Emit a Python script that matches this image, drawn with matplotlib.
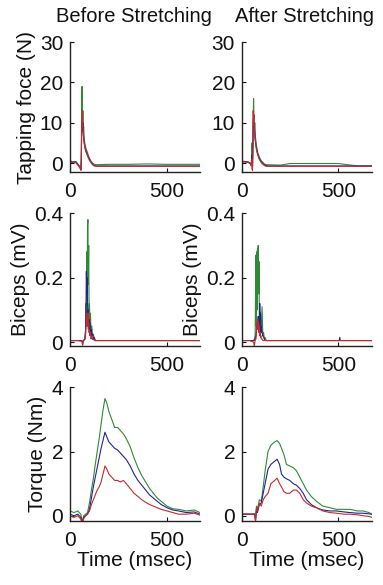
import matplotlib
matplotlib.use("Agg")
import matplotlib.pyplot as plt

plt.rcParams["font.family"] = ["Liberation Sans", "DejaVu Sans"]

# ---- tapping force (N) ----
t_tap_before = [0, 15, 30, 45, 52, 56, 58, 60, 62, 64, 66, 68, 70, 73, 76, 80, 85, 90, 95, 100,
                108, 116, 125, 135, 200, 300, 400, 500, 600, 670]
tap_before_green = [0.6, 0.3, 0.4, -0.5, -1.0, -1.5, 3, 15, 19, 9, 13, 8, 9, 6, 5, 4, 3.2, 2.6, 1.8, 1.2,
                    0.5, 0.0, -0.3, -0.4, -0.3, -0.3, -0.2, -0.3, -0.3, -0.3]
tap_before_blue = [0.4, 0.2, 0.3, -0.7, -1.2, -1.6, 1, 9, 10, 8, 10, 7, 6.5, 5, 4, 3.3, 2.6, 2.0, 1.4, 0.9,
                   0.2, -0.3, -0.6, -0.7, -0.7, -0.7, -0.7, -0.7, -0.7, -0.7]
tap_before_red = [0.3, 0.2, 0.1, -0.8, -1.3, -1.8, 1, 10, 13, 12, 9, 8, 6, 5, 4, 3, 2.4, 1.8, 1.2, 0.7,
                  0.1, -0.4, -0.7, -0.8, -0.8, -0.8, -0.8, -0.8, -0.8, -0.8]

t_tap_after = [0, 15, 30, 42, 48, 52, 54, 56, 58, 60, 62, 64, 66, 68, 71, 74, 78, 82, 86, 90,
               95, 100, 108, 116, 125, 135, 200, 250, 300, 400, 450, 500, 550, 600, 675]
tap_after_green = [0.5, 0.4, 0.3, 0.0, -0.5, 5, -1.5, 4, 12, 16, 11, 8, 10, 7, 6, 4.5, 3.5, 2.5, 2, 1.5,
                   1.0, 0.6, 0.2, -0.2, -0.4, -0.4, -0.5, -0.1, -0.1, -0.1, -0.1, -0.1, -0.4, -0.7, -0.7]
tap_after_blue = [0.4, 0.3, 0.3, 0.0, -0.6, 2, -1.6, 3, 10, 12, 9, 10, 8, 6, 5, 4, 3, 2.2, 1.6, 1.1,
                  0.7, 0.3, -0.1, -0.4, -0.6, -0.7, -0.7, -0.7, -0.7, -0.7, -0.7, -0.7, -0.7, -0.7, -0.7]
tap_after_red = [0.3, 0.3, 0.2, -0.1, -0.7, 1, -1.8, 2, 13, 11, 12, 9, 7, 6, 4.5, 3.5, 2.6, 2.0, 1.4, 0.9,
                 0.5, 0.1, -0.3, -0.6, -0.8, -0.8, -0.8, -0.8, -0.8, -0.8, -0.8, -0.8, -0.8, -0.8, -0.8]

# ---- biceps EMG (mV) ----
t_emg_before = [0, 40, 60, 65, 70, 76, 80, 82, 84, 86, 88, 90, 92, 94, 96, 98, 100, 102, 105, 108,
                112, 116, 120, 125, 130, 140, 200, 670]
emg_before_green = [0.005, 0.005, 0.005, 0.0, 0.005, 0.01, 0.03, 0.12, 0.05, 0.28, 0.15, 0.36, 0.38, 0.18,
                    0.3, 0.1, 0.12, 0.05, 0.09, 0.03, 0.05, 0.02, 0.025, 0.01, 0.005, 0.005, 0.005, 0.005]
emg_before_blue = [0.005, 0.005, 0.005, 0.0, 0.005, 0.01, 0.04, 0.1, 0.22, 0.15, 0.2, 0.12, 0.08, 0.1,
                   0.05, 0.07, 0.04, 0.06, 0.03, 0.04, 0.02, 0.025, 0.01, 0.015, 0.005, 0.005, 0.005, 0.005]
emg_before_red = [0.005, 0.005, 0.003, -0.01, 0.005, 0.008, 0.02, 0.05, 0.09, 0.06, 0.08, 0.05, 0.09, 0.04,
                  0.06, 0.03, 0.04, 0.02, 0.03, 0.01, 0.02, 0.008, 0.01, 0.005, 0.005, 0.005, 0.005, 0.005]

t_emg_after = [0, 40, 60, 64, 68, 72, 74, 76, 78, 80, 82, 84, 86, 88, 90, 92, 94, 96, 98, 100,
               104, 108, 112, 116, 120, 126, 135, 200, 505, 508, 511, 514, 675]
emg_after_green = [0.005, 0.005, 0.005, 0.01, 0.02, 0.27, 0.05, 0.28, 0.1, 0.29, 0.2, 0.3, 0.15, 0.25,
                   0.05, 0.08, 0.02, 0.06, 0.03, 0.05, 0.11, 0.02, 0.03, 0.01, 0.015, 0.005, 0.005,
                   0.005, 0.005, 0.005, 0.005, 0.005, 0.005]
emg_after_blue = [0.005, 0.005, 0.005, 0.005, 0.01, 0.02, 0.03, 0.05, 0.04, 0.06, 0.05, 0.08, 0.06, 0.07,
                  0.04, 0.12, 0.06, 0.09, 0.03, 0.05, 0.03, 0.02, 0.015, 0.01, 0.005, 0.005, 0.005,
                  0.005, 0.005, 0.015, 0.005, 0.005, 0.005]
emg_after_red = [0.005, 0.005, 0.0, -0.012, 0.005, 0.01, 0.02, 0.04, 0.06, 0.05, 0.07, 0.04, 0.06, 0.03,
                 0.05, 0.02, 0.03, 0.015, 0.02, 0.01, 0.01, 0.005, 0.005, 0.005, 0.005, 0.005, 0.005,
                 0.005, 0.005, 0.005, 0.005, 0.005, 0.005]

# ---- torque (Nm) ----
t_torque_before = [0, 20, 40, 55, 60, 65, 70, 80, 90, 100, 110, 120, 130, 140, 150, 160, 170, 180, 190, 200,
                   215, 230, 245, 260, 275, 290, 310, 330, 350, 370, 390, 410, 430, 450, 470, 500, 530,
                   560, 600, 640, 670]
torque_before_green = [0.15, 0.1, 0.15, 0.05, -0.1, -0.15, 0.0, 0.05, 0.1, 0.4, 0.8, 1.15, 1.6, 2.0, 2.4,
                       2.85, 3.3, 3.65, 3.5, 3.25, 3.0, 2.75, 2.75, 2.65, 2.55, 2.4, 2.15, 1.8, 1.5, 1.25,
                       1.05, 0.85, 0.7, 0.55, 0.45, 0.3, 0.22, 0.2, 0.15, 0.18, 0.1]
torque_before_blue = [0.05, 0.0, 0.05, -0.05, -0.15, -0.2, -0.05, 0.0, 0.05, 0.2, 0.55, 0.9, 1.2, 1.5, 1.8,
                      2.1, 2.35, 2.6, 2.45, 2.3, 2.2, 2.1, 2.05, 1.95, 1.85, 1.75, 1.55, 1.3, 1.1, 0.95,
                      0.8, 0.65, 0.55, 0.45, 0.35, 0.25, 0.18, 0.15, 0.1, 0.12, 0.05]
torque_before_red = [0.0, -0.05, 0.0, -0.1, -0.2, -0.15, -0.1, 0.0, 0.05, 0.15, 0.35, 0.5, 0.65, 0.8, 0.9,
                     1.05, 1.3, 1.55, 1.45, 1.3, 1.2, 1.1, 1.1, 1.05, 1.1, 1.0, 0.85, 0.7, 0.6, 0.5,
                     0.42, 0.35, 0.3, 0.25, 0.2, 0.15, 0.1, 0.05, 0.05, 0.08, 0.02]

t_torque_after = [0, 30, 60, 66, 70, 75, 80, 90, 100, 110, 120, 135, 150, 160, 170, 182, 195, 205, 218, 231,
                  248, 266, 283, 300, 318, 335, 360, 387, 420, 457, 490, 530, 561, 600, 630, 660, 675]
torque_after_green = [0.05, 0.05, 0.05, 0.05, -0.15, 0.3, 0.2, 0.5, 0.45, 0.9, 1.4, 2.0, 2.2, 2.25, 2.3,
                      2.34, 2.25, 2.1, 1.9, 1.6, 1.55, 1.5, 1.4, 1.2, 1.0, 0.8, 0.6, 0.45, 0.3, 0.25,
                      0.2, 0.2, 0.2, 0.15, 0.15, 0.1, 0.05]
torque_after_blue = [0.05, 0.05, 0.05, 0.05, -0.15, 0.2, 0.1, 0.35, 0.4, 0.7, 1.0, 1.45, 1.6, 1.65, 1.7,
                     1.76, 1.6, 1.3, 1.2, 1.15, 1.1, 1.0, 0.95, 0.85, 0.7, 0.5, 0.35, 0.25, 0.18, 0.15,
                     0.15, 0.12, 0.1, 0.08, 0.08, 0.06, 0.05]
torque_after_red = [0.05, 0.05, 0.05, 0.05, -0.15, 0.25, 0.15, 0.4, 0.3, 0.5, 0.6, 0.7, 1.0, 1.05, 1.1,
                    1.17, 1.0, 0.9, 0.75, 0.7, 0.7, 0.8, 0.8, 0.7, 0.5, 0.4, 0.3, 0.25, 0.15, 0.1,
                    0.08, 0.05, 0.05, 0.03, 0.0, -0.02, -0.05]

GREEN = "#2f8a35"
BLUE = "#23238f"
RED = "#c42a2a"
INK = "#111111"

fig = plt.figure(figsize=(3.83, 5.85), dpi=100)

col_left = [0.183, 0.632]
col_width = 0.339
rows = [(0.706, 0.222), (0.4085, 0.227), (0.109, 0.229)]

panels = [
    (0, 0, t_tap_before, tap_before_green, tap_before_blue, tap_before_red),
    (0, 1, t_tap_after, tap_after_green, tap_after_blue, tap_after_red),
    (1, 0, t_emg_before, emg_before_green, emg_before_blue, emg_before_red),
    (1, 1, t_emg_after, emg_after_green, emg_after_blue, emg_after_red),
    (2, 0, t_torque_before, torque_before_green, torque_before_blue, torque_before_red),
    (2, 1, t_torque_after, torque_after_green, torque_after_blue, torque_after_red),
]
ylims = [(-2.2, 30), (-0.012, 0.4), (-0.17, 4)]
yticks = [([0, 10, 20, 30], ["0", "10", "20", "30"]),
          ([0, 0.2, 0.4], ["0", "0.2", "0.4"]),
          ([0, 2, 4], ["0", "2", "4"])]
xlims = [670, 675]

for row, col, t, g, b, r in panels:
    bottom, height = rows[row]
    ax = fig.add_axes([col_left[col], bottom, col_width, height])
    ax.plot(t, g, color=GREEN, lw=0.8)
    ax.plot(t, b, color=BLUE, lw=0.8)
    ax.plot(t, r, color=RED, lw=0.8)
    ax.set_xlim(0, xlims[col])
    ax.set_ylim(*ylims[row])
    ax.set_xticks([0, 500])
    ax.set_yticks(yticks[row][0])
    ax.set_yticklabels(yticks[row][1])
    for side in ["top", "right"]:
        ax.spines[side].set_visible(False)
    for side in ["left", "bottom"]:
        ax.spines[side].set_color("#222222")
        ax.spines[side].set_linewidth(1.0)
    ax.tick_params(axis="both", direction="in", length=3, width=0.8, labelsize=15, colors=INK)
    ax.tick_params(axis="x", pad=7)
    ax.tick_params(axis="y", pad=5)
    if row == 0 and col == 0:
        ax.set_ylabel("Tapping foce (N)", fontsize=15, labelpad=3, color=INK)
    if row == 1:
        ax.set_ylabel("Biceps (mV)", fontsize=15, labelpad=3, color=INK)
    if row == 2:
        if col == 0:
            ax.set_ylabel("Torque (Nm)", fontsize=15, labelpad=3, color=INK)
        ax.set_xlabel("Time (msec)", fontsize=15, labelpad=1, color=INK)

fig.text(0.35, 0.972, "Before Stretching", fontsize=14.5, ha="center", va="center", color=INK)
fig.text(0.794, 0.972, "After Stretching", fontsize=14.5, ha="center", va="center", color=INK)

fig.savefig("out.png", dpi=100)
